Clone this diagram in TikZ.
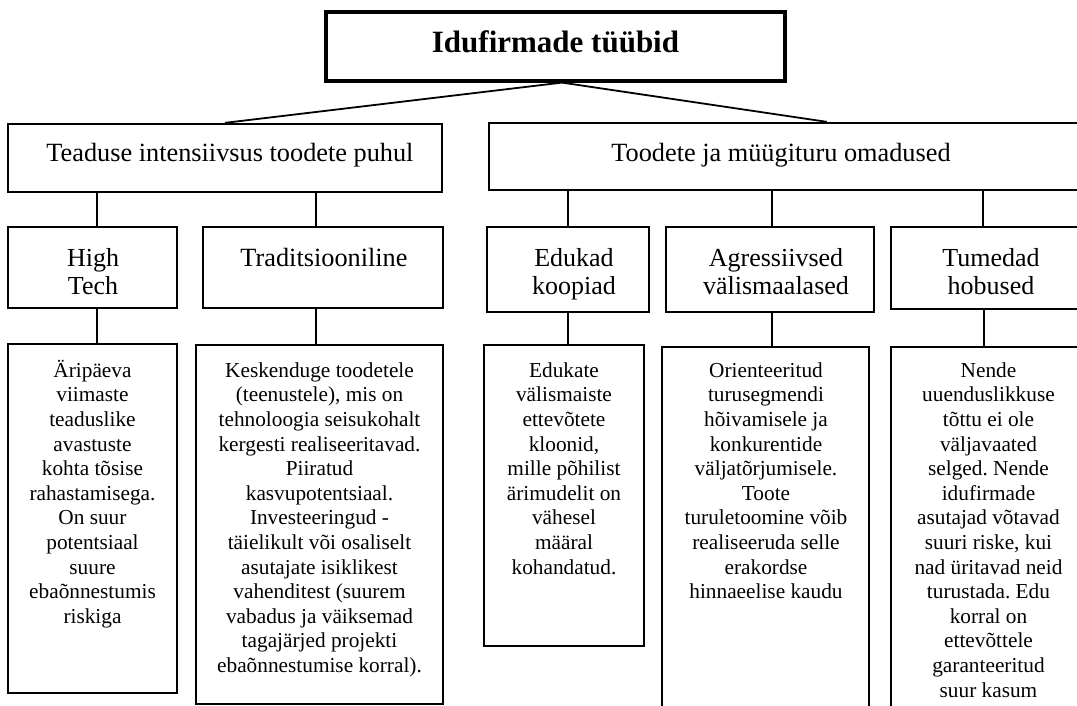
\documentclass[tikz,border=0pt]{standalone}
\usepackage{fontspec}
\setmainfont{Liberation Serif}
\frenchspacing
\newcommand\lst{\rule{0pt}{22pt}}
\newcommand\dst{\rule{0pt}{20pt}}
\begin{document}
\begin{tikzpicture}[x=1pt,y=-1pt,
  bx/.style={draw, line width=2.3pt, inner sep=0pt},
  topbx/.style={draw, line width=3.2pt, inner sep=0pt},
  conn/.style={line width=1.5pt},
  ttl/.style={font=\fontsize{31}{34}\selectfont\bfseries, inner sep=0pt, anchor=base},
  lab/.style={font=\fontsize{26}{28.5}\selectfont, align=center, inner sep=0pt, anchor=north},
  labone/.style={font=\fontsize{26.3}{28.5}\selectfont, inner sep=0pt, anchor=base},
  det/.style={font=\fontsize{21.3}{24.6}\selectfont, align=center, inner sep=0pt, anchor=north}]
\useasboundingbox (0,0) rectangle (1077,706);
\clip (0,0) rectangle (1077,706);
% boxes
\node[topbx, minimum width=459pt, minimum height=69pt] (top) at (555.5,46.5) {};
\node[bx, minimum width=434pt, minimum height=68pt] (L2a) at (225,158) {};
\node[bx, minimum width=601pt, minimum height=67pt] (L2b) at (789.5,156.5) {};
\node[bx, minimum width=169pt, minimum height=81pt] (HT) at (92.5,267.5) {};
\node[bx, minimum width=240pt, minimum height=81pt] (TR) at (323,267.5) {};
\node[bx, minimum width=162pt, minimum height=85pt] (ED) at (568,269.5) {};
\node[bx, minimum width=208pt, minimum height=85pt] (AG) at (770,269.5) {};
\node[bx, minimum width=199pt, minimum height=82pt] (TU) at (990.5,268) {};
\node[bx, minimum width=169pt, minimum height=349pt] (HTd) at (92.5,518.5) {};
\node[bx, minimum width=247pt, minimum height=359pt] (TRd) at (319.5,524.5) {};
\node[bx, minimum width=160pt, minimum height=301pt] (EDd) at (564,495.5) {};
\node[bx, minimum width=207pt, minimum height=373pt] (AGd) at (765.5,533.5) {};
\node[bx, minimum width=195pt, minimum height=373pt] (TUd) at (988.5,533.5) {};
% texts
\node[ttl] (topT) at (555.5,53) {Idufirmade tüübid};
\node[labone] (L2aT) at (230,162) {Teaduse intensiivsus toodete puhul};
\node[labone] (L2bT) at (781,162) {Toodete ja müügituru omadused};
\node[lab] (HTT) at (93,244) {\lst High\\Tech};
\node[labone] (TRT) at (324,266) {Traditsiooniline};
\node[lab] (EDT) at (574,244) {\lst Edukad\\koopiad};
\node[lab] (AGT) at (776,244) {\lst Agressiivsed\\välismaalased};
\node[lab] (TUT) at (991,244) {\lst Tumedad\\hobused};
\node[det] (HTdT) at (92.5,357) {\dst Äripäeva\\viimaste\\teaduslike\\avastuste\\kohta tõsise\\rahastamisega.\\On suur\\potentsiaal\\suure\\ebaõnnestumis\\riskiga};
\node[det] (TRdT) at (319.5,357) {\dst Keskenduge toodetele\\(teenustele), mis on\\tehnoloogia seisukohalt\\kergesti realiseeritavad.\\Piiratud\\kasvupotentsiaal.\\Investeeringud -\\täielikult või osaliselt\\asutajate isiklikest\\vahenditest (suurem\\vabadus ja väiksemad\\tagajärjed projekti\\ebaõnnestumise korral).};
\node[det] (EDdT) at (564,357) {\dst Edukate\\välismaiste\\ettevõtete\\kloonid,\\mille põhilist\\ärimudelit on\\vähesel\\määral\\kohandatud.};
\node[det] (AGdT) at (766,357) {\dst Orienteeritud\\turusegmendi\\hõivamisele ja\\konkurentide\\väljatõrjumisele.\\Toote\\turuletoomine võib\\realiseeruda selle\\erakordse\\hinnaeelise kaudu};
\node[det] (TUdT) at (988.5,357) {\dst Nende\\uuenduslikkuse\\tõttu ei ole\\väljavaated\\selged. Nende\\idufirmade\\asutajad võtavad\\suuri riske, kui\\nad üritavad neid\\turustada. Edu\\korral on\\ettevõttele\\garanteeritud\\suur kasum};
% connectors
\draw[line width=1.8pt] ([xshift=6.5pt]top.south) -- (L2a.north);
\draw[line width=1.8pt] ([xshift=6.5pt]top.south) -- ([xshift=339pt]L2b.north west);
\draw[conn] ([xshift=4.5pt]HT.north) -- ([xshift=4.5pt]HT.north |- L2a.south);
\draw[conn] ([xshift=-7pt]TR.north) -- ([xshift=-7pt]TR.north |- L2a.south);
\draw[conn] ([xshift=4.5pt]HT.south) -- ([xshift=4.5pt]HT.south |- HTd.north);
\draw[conn] ([xshift=-7pt]TR.south) -- ([xshift=-7pt]TR.south |- TRd.north);
\draw[conn] (ED.north) -- (ED.north |- L2b.south);
\draw[conn] ([xshift=2pt]AG.north) -- ([xshift=2pt]AG.north |- L2b.south);
\draw[conn] ([xshift=-7.5pt]TU.north) -- ([xshift=-7.5pt]TU.north |- L2b.south);
\draw[conn] (ED.south) -- (ED.south |- EDd.north);
\draw[conn] ([xshift=2pt]AG.south) -- ([xshift=2pt]AG.south |- AGd.north);
\draw[conn] ([xshift=-6.5pt]TU.south) -- ([xshift=-6.5pt]TU.south |- TUd.north);
\end{tikzpicture}
\end{document}
